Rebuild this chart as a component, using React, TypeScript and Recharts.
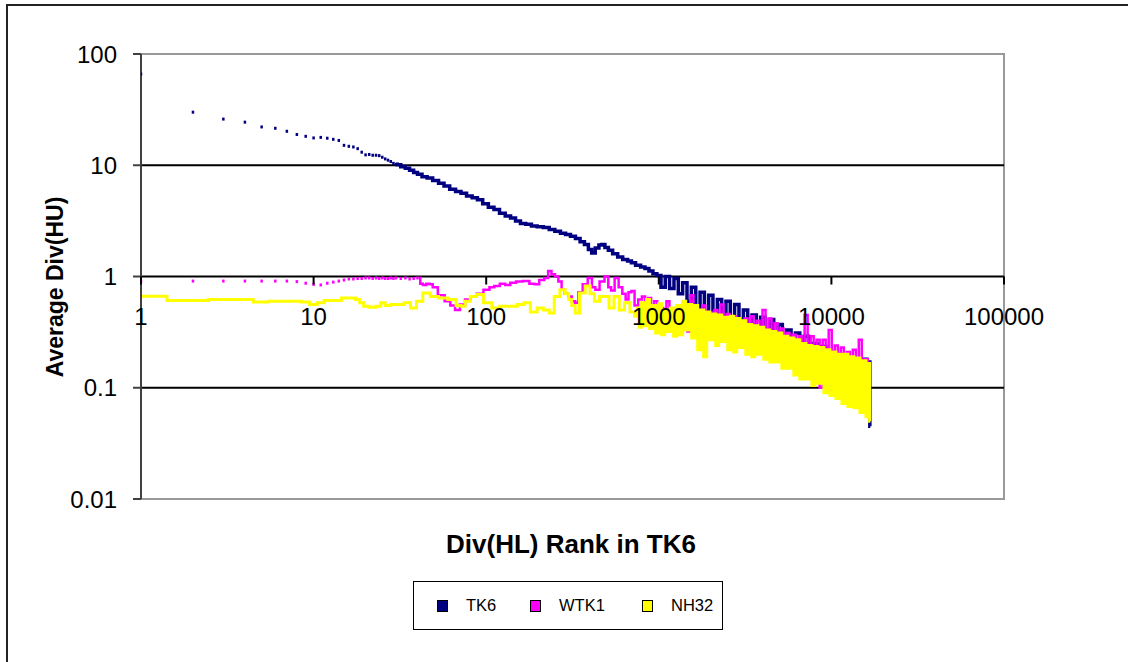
import {
  ComposedChart,
  Line,
  Scatter,
  XAxis,
  YAxis,
  ReferenceLine,
  ReferenceArea,
} from 'recharts';

// [rank, average div] pairs
const TK6_EARLY: [number, number][] = [
  [1, 66], [2, 30], [3, 26], [4, 24.4], [5, 22.1], [6, 21.5], [7, 20.2], [8, 18.9],
  [9, 18.2], [10, 17.6], [11, 17.8], [12, 17.5], [13, 17.1], [14, 16.7], [15, 15.1],
  [16, 14.8], [17, 14.6], [18, 14.1], [19, 13.1], [20, 12.4], [21, 12.5], [22, 12.3],
  [23, 12.3], [24, 12.2], [25, 11.8], [26, 11.4], [27, 11.1], [28, 10.8], [29, 10.4], [30, 10.2],
];

const TK6_DENSE: [number, number][] = [
  [30, 10.2], [31, 10.1], [33, 9.7], [35, 9.4], [37, 9.0], [39, 8.6], [41, 8.3], [44, 7.9],
  [47, 7.7], [51, 7.3], [55, 6.9], [59, 6.5], [64, 6.1], [69, 5.8], [74, 5.6], [80, 5.3],
  [86, 5.1], [92, 4.9], [99, 4.5], [107, 4.2], [115, 4.0], [124, 3.7], [134, 3.5], [143, 3.35],
  [153, 3.15], [163, 3.0], [176, 2.95], [190, 2.85], [205, 2.8], [224, 2.75], [240, 2.65],
  [260, 2.55], [279, 2.45], [298, 2.38], [318, 2.3], [340, 2.2], [360, 2.05], [382, 1.94],
  [400, 1.75], [417, 1.63], [440, 1.8], [460, 1.92], [475, 1.94], [500, 1.82], [521, 1.72],
  [560, 1.6], [596, 1.5], [640, 1.42], [680, 1.38], [708, 1.33], [760, 1.26], [810, 1.22],
  [854, 1.18], [900, 1.12], [950, 1.06],
  [1000, 1.02], [1060, 0.8], [1120, 1.0], [1190, 0.78], [1260, 0.96], [1335, 0.7],
  [1415, 0.88], [1500, 0.6], [1590, 0.8], [1685, 0.52], [1785, 0.72], [1890, 0.48],
  [2000, 0.68], [2120, 0.45], [2250, 0.62], [2380, 0.42], [2520, 0.6], [2670, 0.4],
  [2830, 0.56], [3000, 0.36], [3180, 0.5], [3370, 0.33], [3570, 0.45], [3780, 0.31],
  [4010, 0.43], [4250, 0.29], [4500, 0.41], [4770, 0.28], [5050, 0.37], [5350, 0.25],
  [5670, 0.33], [6010, 0.23], [6370, 0.31], [6750, 0.22], [7150, 0.29], [7580, 0.2],
  [8030, 0.25], [8510, 0.17], [9020, 0.235], [9560, 0.15], [10130, 0.21], [10740, 0.13],
  [11380, 0.2], [12060, 0.11], [12780, 0.18], [13540, 0.09], [14350, 0.17], [15200, 0.07],
  [15800, 0.18], [16300, 0.06], [16600, 0.17], [16800, 0.045],
];

const WTK1_EARLY: [number, number][] = [
  [1, 0.91], [2, 0.91], [3, 0.91], [4, 0.91], [5, 0.91], [6, 0.91], [7, 0.91], [8, 0.9],
  [9, 0.87], [10, 0.85], [11, 0.84], [12, 0.87], [13, 0.89], [14, 0.91], [15, 0.93],
  [16, 0.95], [17, 0.95], [18, 0.96], [19, 0.96], [20, 0.97], [21, 0.97], [22, 0.96],
  [23, 0.97], [24, 0.96], [25, 0.97], [26, 0.96], [27, 0.96], [28, 0.97], [29, 0.96],
  [30, 0.97], [32, 0.96], [34, 0.97], [36, 0.95], [38, 0.96], [40, 0.97],
];

const WTK1_DENSE: [number, number][] = [
  [41, 0.97], [42, 0.86], [44, 0.84], [46, 0.86], [48, 0.85], [50, 0.8], [55, 0.68],
  [60, 0.6], [64, 0.55], [68, 0.5], [73, 0.56], [78, 0.62], [84, 0.66], [92, 0.7],
  [101, 0.76], [108, 0.8], [115, 0.82], [125, 0.86], [133, 0.84], [143, 0.88], [155, 0.9],
  [171, 0.91], [185, 0.86], [196, 0.85], [210, 0.93], [224, 0.97], [233, 1.12], [245, 1.05],
  [256, 1.0], [268, 0.9], [279, 0.76], [292, 0.7], [306, 0.66], [320, 0.6], [335, 0.58],
  [350, 0.72], [375, 0.85], [400, 0.97], [420, 0.8], [438, 0.76], [470, 0.9], [500, 1.0],
  [520, 0.8], [539, 0.75], [571, 0.97], [600, 0.8], [630, 0.7], [655, 0.62], [680, 0.72],
  [708, 0.74], [740, 0.55], [781, 0.62],
  [815, 0.66], [850, 0.4], [885, 0.64], [920, 0.42], [960, 0.6], [1000, 0.4], [1040, 0.52],
  [1085, 0.36], [1130, 0.6], [1175, 0.34], [1225, 0.5], [1275, 0.36], [1325, 0.55],
  [1380, 0.34], [1435, 0.5], [1495, 0.32], [1555, 0.68], [1620, 0.31], [1685, 0.5],
  [1755, 0.3], [1825, 0.55], [1900, 0.29], [1980, 0.48], [2060, 0.27], [2145, 0.5],
  [2230, 0.28], [2320, 0.56], [2420, 0.26], [2520, 0.46], [2620, 0.25], [2730, 0.44],
  [2840, 0.25], [2960, 0.4], [3080, 0.24], [3200, 0.42], [3335, 0.23], [3470, 0.44],
  [3610, 0.22], [3760, 0.4], [3910, 0.21], [4070, 0.5], [4240, 0.21], [4410, 0.42],
  [4590, 0.2], [4780, 0.38], [4975, 0.19], [5180, 0.34], [5390, 0.18], [5610, 0.31],
  [5840, 0.17], [6080, 0.3], [6330, 0.16], [6590, 0.29], [6860, 0.15], [7140, 0.45],
  [7430, 0.14], [7740, 0.29], [8050, 0.13], [8380, 0.27], [8730, 0.1], [9080, 0.27],
  [9450, 0.12], [9840, 0.33], [10250, 0.11], [10670, 0.24], [11100, 0.1], [11560, 0.23],
  [12030, 0.09], [12520, 0.21], [13030, 0.085], [13570, 0.22], [14120, 0.08], [14700, 0.27],
  [15300, 0.075], [15930, 0.18], [16500, 0.07], [16750, 0.16],
];

const NH32: [number, number][] = [
  [1, 0.665], [2, 0.61], [3, 0.62], [4, 0.62], [5, 0.59], [6, 0.6], [7, 0.6], [8, 0.6],
  [9, 0.59], [10, 0.56], [11, 0.58], [12, 0.61], [13, 0.61], [14, 0.61], [15, 0.64],
  [17, 0.64], [18, 0.62], [19, 0.58], [20, 0.54], [22, 0.53], [24, 0.54], [25, 0.58],
  [27, 0.55], [29, 0.56], [32, 0.56], [35, 0.58], [38, 0.52], [41, 0.6], [45, 0.71],
  [50, 0.66], [56, 0.64], [64, 0.62], [70, 0.55], [73, 0.54], [78, 0.6], [84, 0.66],
  [92, 0.69], [101, 0.58], [115, 0.52], [125, 0.54], [143, 0.54], [160, 0.56], [171, 0.58],
  [190, 0.48], [205, 0.52], [224, 0.5], [240, 0.47], [256, 0.66], [279, 0.76], [295, 0.7],
  [306, 0.62], [320, 0.55], [335, 0.47], [360, 0.71], [390, 0.82], [410, 0.7], [438, 0.6],
  [470, 0.66], [500, 0.66], [530, 0.52], [571, 0.66], [610, 0.5], [655, 0.58], [708, 0.48],
  [740, 0.44], [760, 0.52], [781, 0.35],
  [800, 0.58], [833, 0.36], [867, 0.62], [903, 0.34], [940, 0.55], [978, 0.31], [1018, 0.57],
  [1060, 0.3], [1103, 0.5], [1148, 0.32], [1195, 0.52], [1244, 0.29], [1295, 0.55],
  [1348, 0.3], [1403, 0.6], [1460, 0.33], [1520, 0.56], [1582, 0.28], [1647, 0.55],
  [1714, 0.22], [1784, 0.5], [1857, 0.19], [1933, 0.48], [2012, 0.27], [2094, 0.46],
  [2180, 0.24], [2269, 0.45], [2362, 0.26], [2458, 0.43], [2559, 0.22], [2663, 0.44],
  [2772, 0.21], [2886, 0.42], [3004, 0.23], [3127, 0.4], [3255, 0.2], [3388, 0.37],
  [3527, 0.19], [3671, 0.36], [3821, 0.2], [3977, 0.35], [4140, 0.18], [4309, 0.33],
  [4485, 0.17], [4669, 0.32], [4860, 0.17], [5059, 0.31], [5266, 0.15], [5481, 0.29],
  [5705, 0.15], [5939, 0.28], [6182, 0.13], [6435, 0.27], [6698, 0.12], [6972, 0.25],
  [7257, 0.12], [7554, 0.24], [7863, 0.105], [8185, 0.235], [8520, 0.11], [8868, 0.23],
  [9231, 0.09], [9609, 0.22], [10002, 0.085], [10411, 0.21], [10837, 0.08], [11280, 0.2],
  [11742, 0.072], [12222, 0.2], [12722, 0.068], [13242, 0.19], [13784, 0.066],
  [14348, 0.185], [14935, 0.06], [15546, 0.175], [16182, 0.055], [16500, 0.165], [16800, 0.05],
];

const X_TICKS = [1, 10, 100, 1000, 10000, 100000];
const Y_TICKS = [0.01, 0.1, 1, 10, 100];

const NAVY = '#000080';
const MAGENTA = '#ff00ff';
const YELLOW = '#ffff00';
const FONT = 'Arial, "Liberation Sans", sans-serif';

const W = 1128;
const H = 662;
const PLOT_LEFT = 141;
const PLOT_RIGHT = 1004;
const PLOT_TOP = 54;
const PLOT_BOTTOM = 499;
const Y_AXIS_W = 60;
const X_AXIS_H = 30;
// the x axis crosses the y axis at 1, half way down the 0.01..100 log range
const AXIS_Y = PLOT_TOP + (PLOT_BOTTOM - PLOT_TOP) / 2;

const rows = (pts: [number, number][]) => pts.map(([rank, value]) => ({ rank, value }));

function XTick(props: any) {
  const { x, payload } = props;
  return (
    <g>
      <line x1={x} x2={x} y1={AXIS_Y} y2={AXIS_Y + 8} stroke="#000" strokeWidth={2} />
      <text x={x} y={AXIS_Y + 48} textAnchor="middle" fontSize={24} fontFamily={FONT} fill="#000">
        {payload.value}
      </text>
    </g>
  );
}

const dot = (color: string) => (p: any) =>
  p.cx == null ? null : <rect x={p.cx - 1.25} y={p.cy - 1.5} width={2.5} height={3} fill={color} />;

function LegendItem({ color, label }: { color: string; label: string }) {
  return (
    <span style={{ display: 'inline-flex', alignItems: 'center' }}>
      <span
        style={{
          width: 9,
          height: 10,
          background: color,
          border: '1px solid #000',
          marginRight: 18,
        }}
      />
      <span style={{ fontSize: 16.5 }}>{label}</span>
    </span>
  );
}

export default function App() {
  return (
    <div style={{ position: 'fixed', left: 0, top: 0, width: W, height: H, overflow: 'hidden', background: '#fff', fontFamily: FONT }}>
      <div style={{ position: 'absolute', left: 6, top: 4, width: W + 20, height: H + 20, border: '2px solid #222' }} />
      <ComposedChart
        width={W}
        height={H}
        margin={{
          top: PLOT_TOP,
          right: W - PLOT_RIGHT,
          bottom: H - PLOT_BOTTOM - X_AXIS_H,
          left: PLOT_LEFT - Y_AXIS_W,
        }}
        style={{ position: 'absolute', left: 0, top: 0 }}
      >
        <XAxis
          dataKey="rank"
          type="number"
          scale="log"
          domain={[1, 100000]}
          ticks={X_TICKS}
          interval={0}
          allowDataOverflow
          axisLine={false}
          tickLine={false}
          height={X_AXIS_H}
          tick={<XTick />}
        />
        <YAxis
          dataKey="value"
          type="number"
          scale="log"
          domain={[0.01, 100]}
          ticks={Y_TICKS}
          interval={0}
          allowDataOverflow
          width={Y_AXIS_W}
          axisLine={{ stroke: '#404040', strokeWidth: 2 }}
          tickLine={{ stroke: '#404040', strokeWidth: 2 }}
          tickSize={8}
          tickMargin={16}
          tick={{ fontSize: 24, fill: '#000', fontFamily: FONT }}
          tickFormatter={(v: number) => String(v)}
        />
        <ReferenceArea x1={1} x2={100000} y1={0.01} y2={100} fill="none" stroke="#999" strokeWidth={2} />
        <ReferenceLine y={10} stroke="#000" strokeWidth={2} />
        <ReferenceLine y={0.1} stroke="#000" strokeWidth={2} />
        <ReferenceLine y={1} stroke="#000" strokeWidth={2} />
        <Scatter data={rows(TK6_EARLY)} fill={NAVY} shape={dot(NAVY)} isAnimationActive={false} />
        <Line data={rows(TK6_DENSE)} type="step" dataKey="value" stroke={NAVY} strokeWidth={3.5} dot={false} isAnimationActive={false} />
        <Scatter data={rows(WTK1_EARLY)} fill={MAGENTA} shape={dot(MAGENTA)} isAnimationActive={false} />
        <Line data={rows(WTK1_DENSE)} type="step" dataKey="value" stroke={MAGENTA} strokeWidth={2.5} dot={false} isAnimationActive={false} />
        <Line data={rows(NH32)} type="step" dataKey="value" stroke={YELLOW} strokeWidth={3} dot={false} isAnimationActive={false} />
      </ComposedChart>
      <svg width={W} height={H} style={{ position: 'absolute', left: 0, top: 0, pointerEvents: 'none' }}>
        <text x={571} y={553} textAnchor="middle" fontSize={26} fontWeight="bold" fontFamily={FONT}>
          Div(HL) Rank in TK6
        </text>
        <text
          transform="translate(63 287) rotate(-90)"
          textAnchor="middle"
          fontSize={23}
          fontWeight="bold"
          fontFamily={FONT}
        >
          Average Div(HU)
        </text>
      </svg>
      <div
        style={{
          position: 'absolute',
          left: 413,
          top: 581,
          width: 308,
          height: 47,
          border: '1.5px solid #000',
          display: 'flex',
          alignItems: 'center',
          boxSizing: 'content-box',
        }}
      >
        <span style={{ marginLeft: 23, width: 93, display: 'inline-flex' }}>
          <LegendItem color={NAVY} label="TK6" />
        </span>
        <span style={{ width: 112, display: 'inline-flex' }}>
          <LegendItem color={MAGENTA} label="WTK1" />
        </span>
        <span style={{ display: 'inline-flex' }}>
          <LegendItem color={YELLOW} label="NH32" />
        </span>
      </div>
    </div>
  );
}
